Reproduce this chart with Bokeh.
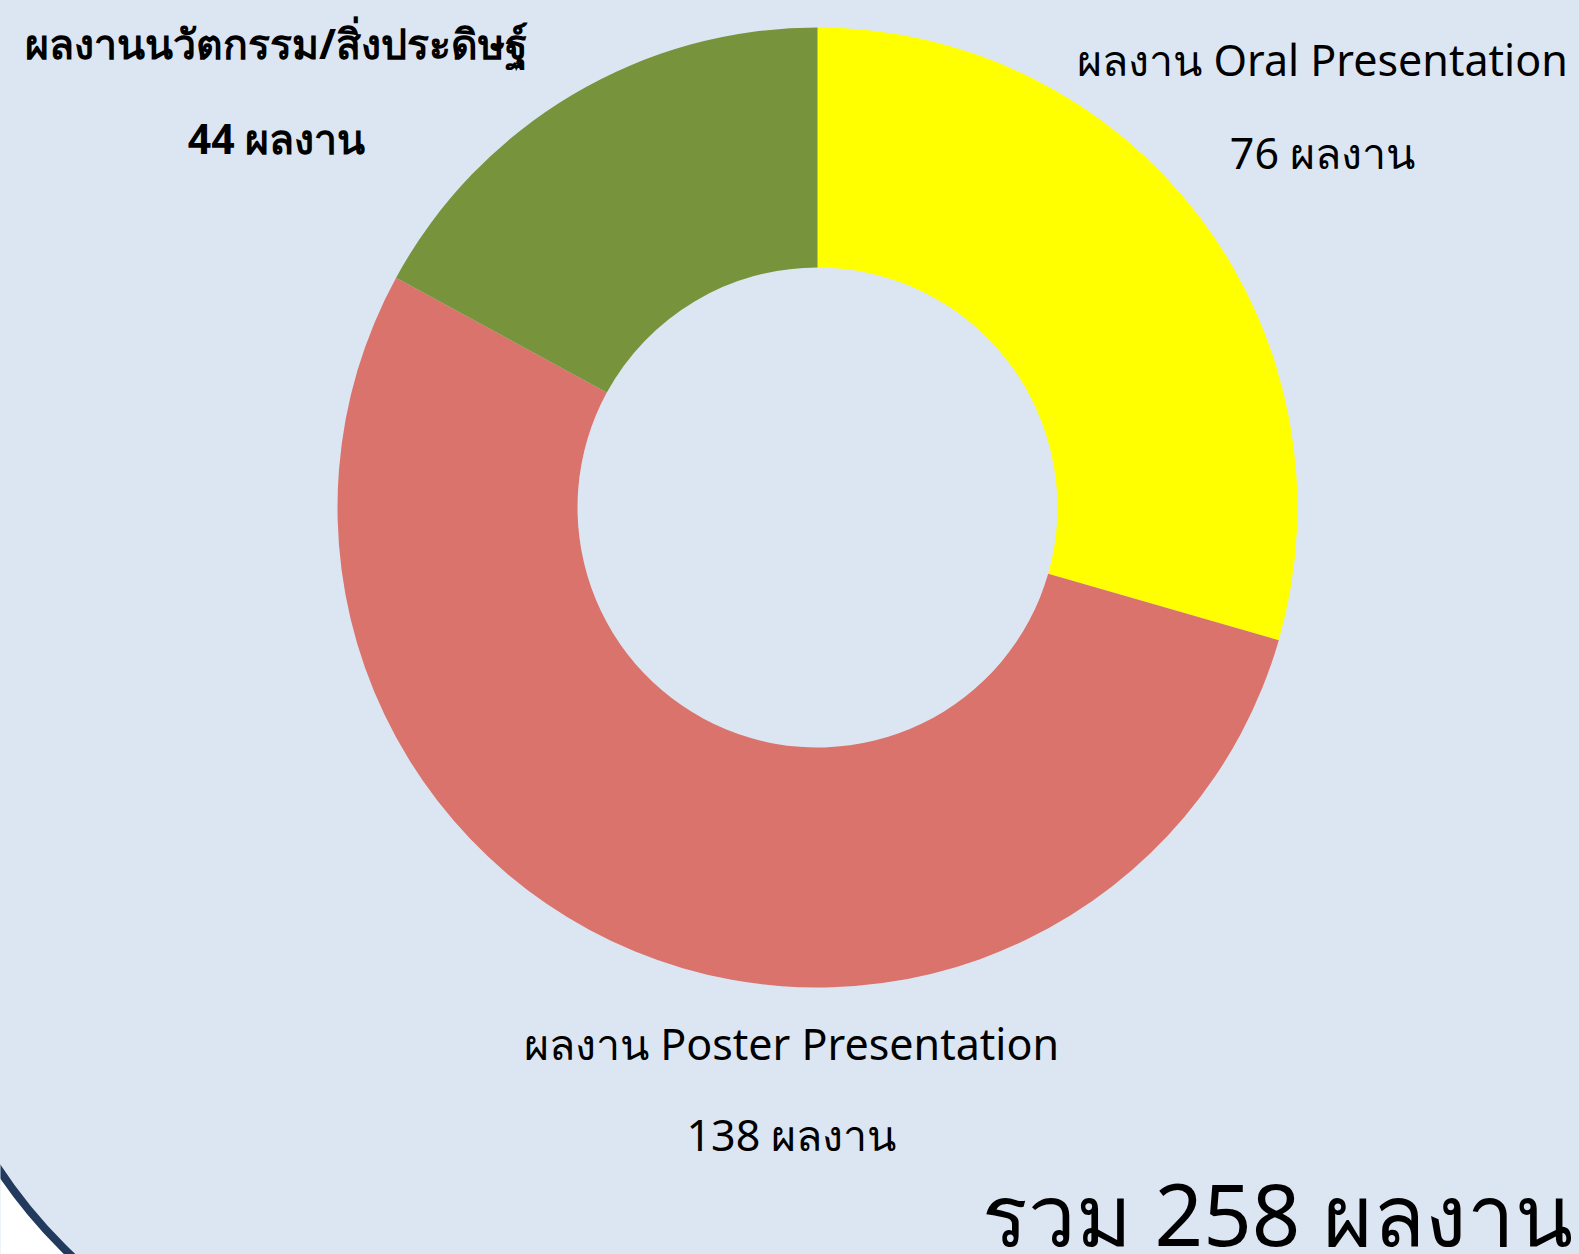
import math
from bokeh.plotting import figure
from bokeh.models import ColumnDataSource, Range1d
from bokeh.core.properties import value
from bokeh.embed import file_html
from bokeh.resources import INLINE

# ---- data ----
categories = ["ผลงาน Oral Presentation", "ผลงาน Poster Presentation", "ผลงานนวัตกรรม/สิ่งประดิษฐ์"]
counts = [76, 138, 44]
unit = "ผลงาน"
total_label = "รวม"

palette = ["#FFFF00", "#D9736B", "#77933C"]
BG = "#DCE6F2"
NAVY = "#213A5E"
FONT = "Noto Sans"

W, H = 1579, 1254
p = figure(width=W, height=H, output_backend="svg", toolbar_location=None,
           x_range=Range1d(0, W), y_range=Range1d(0, H), min_border=0)
p.axis.visible = False
p.grid.visible = False
p.outline_line_color = None
p.background_fill_color = BG
p.border_fill_color = BG

# decorative rounded frame corner (bottom-left)
cx_f, cy_f, R_f = 420, 365, 506
p.annular_wedge(x=cx_f, y=cy_f, inner_radius=R_f + 4, outer_radius=R_f + 400,
                start_angle=math.pi, end_angle=1.5 * math.pi,
                fill_color="white", line_color=None)
p.arc(x=cx_f, y=cy_f, radius=R_f, start_angle=math.pi, end_angle=1.5 * math.pi,
      line_color=NAVY, line_width=8)

# donut
total = sum(counts)
starts, ends = [], []
acc = 0
for c in counts:
    a0 = math.pi / 2 - 2 * math.pi * acc / total
    a1 = math.pi / 2 - 2 * math.pi * (acc + c) / total
    starts.append(a0)
    ends.append(a1)
    acc += c

src = ColumnDataSource(dict(cat=categories, val=counts, start=starts, end=ends, color=palette))
CX, CY = 817, 747
p.annular_wedge(x=CX, y=CY, inner_radius=240, outer_radius=480,
                start_angle="start", end_angle="end", direction="clock",
                fill_color="color", line_color=None, source=src)

# labels (positions are layout)
label_pos = [(1322, 1195, 1102, "normal", "43px"),
             (791, 211, 120, "normal", "43px"),
             (276, 1212, 1117, "bold", "41px")]
for (cat, v, (lx, ly1, ly2, fs, sz)) in zip(categories, counts, label_pos):
    p.text(x=[lx], y=[ly1], text=[cat], text_align="center", text_baseline="middle",
           text_font=value(FONT), text_font_size=sz, text_font_style=fs, text_color="black")
    p.text(x=[lx], y=[ly2], text=[f"{v} {unit}"], text_align="center", text_baseline="middle",
           text_font=value(FONT), text_font_size=sz, text_font_style=fs, text_color="black")

p.text(x=[1572], y=[42], text=[f"{total_label} {total} {unit}"], text_align="right",
       text_baseline="middle", text_font=value(FONT), text_font_size="85px",
       text_color="black")

html = file_html(p, INLINE)
html = html.replace("</head>", "<style>html,body{background:%s;}</style></head>" % BG, 1)
open("out.html", "w").write(html)
